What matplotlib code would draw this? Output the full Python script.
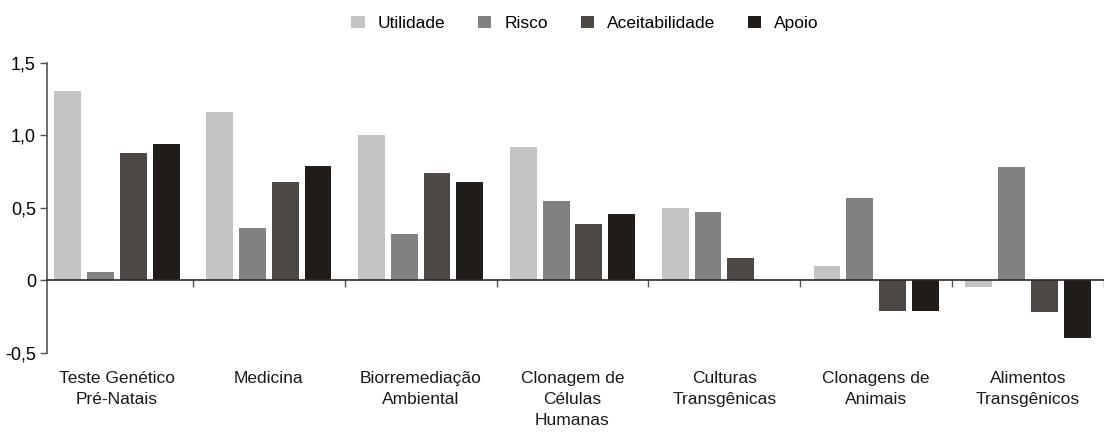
import numpy as np
import matplotlib.pyplot as plt
from matplotlib import font_manager

categories = ['Teste Genético\nPré-Natais', 'Medicina', 'Biorremediação\nAmbiental',
              'Clonagem de\nCélulas\nHumanas', 'Culturas\nTransgênicas',
              'Clonagens de\nAnimais', 'Alimentos\nTransgênicos']
series = ['Utilidade', 'Risco', 'Aceitabilidade', 'Apoio']
utilidade = [1.31, 1.16, 1.00, 0.92, 0.50, 0.10, -0.05]
risco = [0.06, 0.36, 0.32, 0.55, 0.47, 0.57, 0.78]
aceitabilidade = [0.88, 0.68, 0.74, 0.39, 0.15, -0.21, -0.22]
apoio = [0.94, 0.79, 0.68, 0.46, 0.0, -0.21, -0.40]
yticks = [-0.5, 0, 0.5, 1.0, 1.5]
ytick_labels = ['-0,5', '0', '0,5', '1,0', '1,5']

colors = ['#c3c3c1', '#82817f', '#4d4845', '#201c19']

names = {f.name for f in font_manager.fontManager.ttflist}
font = 'Liberation Sans Narrow' if 'Liberation Sans Narrow' in names else 'Liberation Sans'
plt.rcParams['font.family'] = [font, 'DejaVu Sans']
plt.rcParams['font.size'] = 12.5

fig = plt.figure(figsize=(11.04, 4.38), dpi=100)
ax = fig.add_axes([0.0426, 0.195, 0.9574, 0.661])

x = np.arange(len(categories))
step = 0.216
width = 0.177
for i, (name, vals) in enumerate(zip(series, [utilidade, risco, aceitabilidade, apoio])):
    ax.bar(x + (i - 1.5) * step, vals, width, color=colors[i], label=name, zorder=2)

ax.set_xlim(-0.46, 6.48)
ax.set_ylim(-0.5, 1.5)
ax.set_yticks(yticks)
ax.set_yticklabels(ytick_labels)
ax.tick_params(axis='y', length=5, width=1, color='#555555', pad=3, labelsize=13)

ax.spines['top'].set_visible(False)
ax.spines['right'].set_visible(False)
ax.spines['left'].set_color('#555555')
ax.spines['left'].set_linewidth(1.2)
ax.spines['bottom'].set_position(('data', 0))
ax.spines['bottom'].set_color('#2a2a2a')
ax.spines['bottom'].set_linewidth(1.2)
ax.spines['bottom'].set_zorder(3)

ax.set_xticks(x + 0.5, minor=True)
ax.set_xticks([])
ax.tick_params(axis='x', which='minor', length=5, width=1, color='#555555', direction='out')

for xi, lab in zip(x, categories):
    ax.text(xi, -0.065, lab, transform=ax.get_xaxis_transform(), ha='center', va='top',
            linespacing=1.5, color='#1a1a1a')

fig.legend(loc='upper center', bbox_to_anchor=(0.53, 1.0), ncol=4, frameon=False,
           handlelength=0.75, handleheight=0.75, columnspacing=1.9, handletextpad=0.75,
           fontsize=12.5)

fig.savefig('out.png', dpi=100)
